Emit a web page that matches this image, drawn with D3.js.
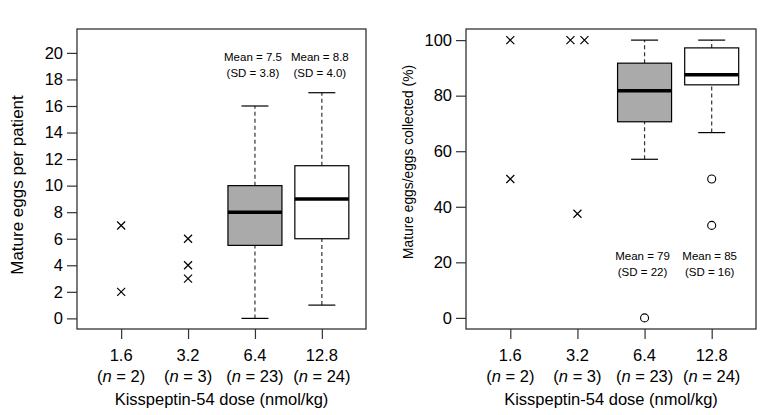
<!DOCTYPE html>
<html>
<head>
<meta charset="utf-8">
<script src="https://cdn.jsdelivr.net/npm/d3@7"></script>
<style>
  body { margin: 0; background: #fff; }
  text { font-family: "Liberation Sans", Arial, Helvetica, sans-serif; fill: #000; }
</style>
</head>
<body>
<svg id="chart" width="763" height="415"></svg>
<script>
// ---- data ----
var doses = ["1.6", "3.2", "6.4", "12.8"];
var nPatients = [2, 3, 23, 24];

// panel A: mature eggs per patient
var eggsPoints = [[2, 7], [3, 4, 6], null, null];          // raw points (small groups)
var eggsBoxes = [null, null, [0, 5.5, 8, 10, 16], [1, 6, 9, 11.5, 17]]; // lo, q1, med, q3, hi
var eggsOutliers = [[], [], [], []];
var eggsMean = [null, null, "7.5", "8.8"];
var eggsSD = [null, null, "3.8", "4.0"];
var eggsTicks = [0, 2, 4, 6, 8, 10, 12, 14, 16, 18, 20];

// panel B: mature eggs / eggs collected (%)
var pctPoints = [[100, 50], [100, 100, 37.5], null, null];
var pctBoxes = [null, null, [57.1, 70.6, 81.8, 91.7, 100], [66.7, 83.9, 87.5, 97.2, 100]];
var pctOutliers = [[], [], [0], [50, 33.3]];
var pctMean = [null, null, "79", "85"];
var pctSD = [null, null, "22", "16"];
var pctTicks = [0, 20, 40, 60, 80, 100];

var boxFill = ["#fff", "#fff", "#aaaaaa", "#ffffff"];

var svg = d3.select("#chart");

function panel(opt) {
	var g = svg.append("g");
	var x = d3.scaleLinear().domain([0.34, 4.66]).range([opt.left, opt.right]);
	var y = d3.scaleLinear().domain(opt.ydomain).range([329, 29]);

	// frame
	g.append("rect")
		.attr("x", opt.left).attr("y", 29)
		.attr("width", opt.right - opt.left).attr("height", 300)
		.attr("fill", "none").attr("stroke", "#333").attr("stroke-width", 1.3);

	// y axis
	var yAxis = d3.axisLeft(y).tickValues(opt.ticks).tickSize(10).tickPadding(4);
	var ya = g.append("g").attr("transform", "translate(" + opt.left + ",0)").call(yAxis);
	ya.select(".domain").remove();
	ya.selectAll("line").attr("stroke", "#333").attr("stroke-width", 1.2);
	ya.selectAll("text").style("font-size", "16.5px");

	// x axis
	var xAxis = d3.axisBottom(x).tickValues([1, 2, 3, 4]).tickSize(10).tickFormat("");
	var xa = g.append("g").attr("transform", "translate(0,329)").call(xAxis);
	xa.select(".domain").remove();
	xa.selectAll("line").attr("stroke", "#333").attr("stroke-width", 1.2);

	var lab = g.selectAll("g.xlab").data(doses).enter().append("g")
		.attr("class", "xlab")
		.attr("transform", function(d, i) { return "translate(" + x(i + 1) + ",0)"; });
	lab.append("text").attr("y", 361).attr("text-anchor", "middle")
		.style("font-size", "16.5px").text(function(d) { return d; });
	var nl = lab.append("text").attr("y", 382).attr("text-anchor", "middle")
		.style("font-size", "16.5px");
	nl.append("tspan").text("(");
	nl.append("tspan").style("font-style", "italic").text("n");
	nl.append("tspan").text(function(d, i) { return " = " + nPatients[i] + ")"; });

	g.append("text").attr("x", (opt.left + opt.right) / 2).attr("y", 405)
		.attr("text-anchor", "middle").style("font-size", "16.5px")
		.text("Kisspeptin-54 dose (nmol/kg)");

	g.append("text")
		.attr("transform", "translate(" + opt.titleX + "," + opt.titleY + ") rotate(-90)")
		.attr("text-anchor", "middle").style("font-size", opt.titleSize)
		.text(opt.title);

	// raw points as crosses
	opt.points.forEach(function(vals, i) {
		if (!vals) return;
		var counts = {};
		vals.forEach(function(v) { counts[v] = (counts[v] || 0) + 1; });
		var seen = {};
		vals.forEach(function(v) {
			var k = counts[v];
			var j = seen[v] = (seen[v] === undefined ? 0 : seen[v] + 1);
			var cx = x(i + 1) + (j - (k - 1) / 2) * 14;
			var cy = y(v);
			g.append("path")
				.attr("d", "M" + (cx - 4) + "," + (cy - 4) + "L" + (cx + 4) + "," + (cy + 4) +
					"M" + (cx - 4) + "," + (cy + 4) + "L" + (cx + 4) + "," + (cy - 4))
				.attr("stroke", "#000").attr("stroke-width", 1.2).attr("fill", "none");
		});
	});

	// boxes
	var bw = 54;
	opt.boxes.forEach(function(b, i) {
		if (!b) return;
		var cx = x(i + 1);
		// whiskers
		g.append("line").attr("x1", cx).attr("x2", cx).attr("y1", y(b[0])).attr("y2", y(b[1]))
			.attr("stroke", "#333").attr("stroke-width", 1.2).attr("stroke-dasharray", "4,3");
		g.append("line").attr("x1", cx).attr("x2", cx).attr("y1", y(b[3])).attr("y2", y(b[4]))
			.attr("stroke", "#333").attr("stroke-width", 1.2).attr("stroke-dasharray", "4,3");
		[b[0], b[4]].forEach(function(v) {
			g.append("line").attr("x1", cx - bw / 4).attr("x2", cx + bw / 4)
				.attr("y1", y(v)).attr("y2", y(v))
				.attr("stroke", "#000").attr("stroke-width", 1.2);
		});
		g.append("rect").attr("x", cx - bw / 2).attr("width", bw)
			.attr("y", y(b[3])).attr("height", y(b[1]) - y(b[3]))
			.attr("fill", boxFill[i]).attr("stroke", "#000").attr("stroke-width", 1.2);
		g.append("line").attr("x1", cx - bw / 2).attr("x2", cx + bw / 2)
			.attr("y1", y(b[2])).attr("y2", y(b[2]))
			.attr("stroke", "#000").attr("stroke-width", 3.5);
	});

	// outliers as open circles
	opt.outliers.forEach(function(vals, i) {
		g.selectAll(null).data(vals).enter().append("circle")
			.attr("cx", x(i + 1)).attr("cy", function(d) { return y(d); })
			.attr("r", 4).attr("fill", "none").attr("stroke", "#000").attr("stroke-width", 1.1);
	});

	// mean / sd notes
	opt.mean.forEach(function(m, i) {
		if (!m) return;
		g.append("text").attr("x", x(i + 1) - 2).attr("y", opt.noteY)
			.attr("text-anchor", "middle").style("font-size", "11.5px")
			.text("Mean = " + m);
		g.append("text").attr("x", x(i + 1) - 2).attr("y", opt.noteY + 16)
			.attr("text-anchor", "middle").style("font-size", "11.5px")
			.text("(SD = " + opt.sd[i] + ")");
	});
}

panel({
	left: 77, right: 366, ydomain: [-0.8, 21.8], ticks: eggsTicks,
	points: eggsPoints, boxes: eggsBoxes, outliers: eggsOutliers,
	mean: eggsMean, sd: eggsSD, noteY: 61,
	title: "Mature eggs per patient", titleX: 23, titleY: 185, titleSize: "17px"
});

panel({
	left: 466, right: 756, ydomain: [-4, 104], ticks: pctTicks,
	points: pctPoints, boxes: pctBoxes, outliers: pctOutliers,
	mean: pctMean, sd: pctSD, noteY: 260,
	title: "Mature eggs/eggs collected (%)", titleX: 413, titleY: 162, titleSize: "13.8px"
});
</script>
</body>
</html>
